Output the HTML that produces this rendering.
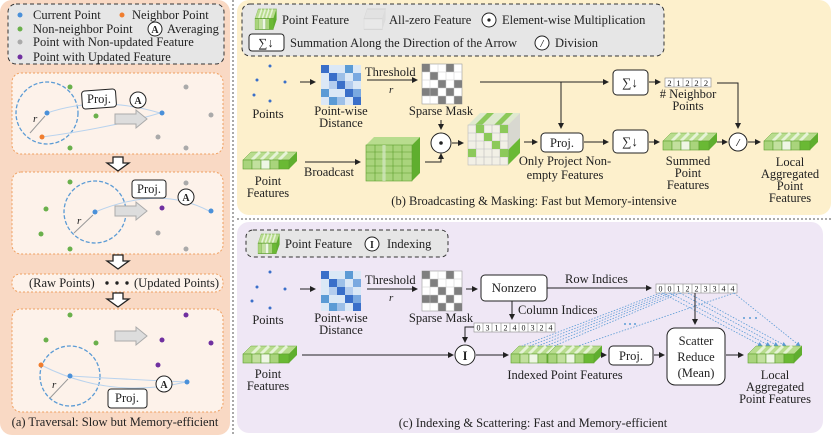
<!DOCTYPE html>
<html><head><meta charset="utf-8"><style>
body{margin:0;background:#fff}
svg text{font-family:"Liberation Serif",serif;fill:#222}
</style></head><body>
<svg width="831" height="435" viewBox="0 0 831 435" xmlns="http://www.w3.org/2000/svg">
<defs>
<marker id="ar" markerWidth="6" markerHeight="6" refX="5" refY="3" orient="auto"><path d="M0,0 L6,3 L0,6 z" fill="#222"/></marker>
<marker id="ab" markerWidth="6" markerHeight="6" refX="5" refY="3" orient="auto"><path d="M0,0 L6,3 L0,6 z" fill="#5b9bd5"/></marker>
<g id="bar">
<polygon points="0,8 8,0 54,0 46,8" fill="#b8dc8e" stroke="#6aa83a" stroke-width="0.5"/>
<path d="M9,8 L17,0 M18,8 L26,0 M27,8 L35,0 M36,8 L44,0" stroke="#e6f3d6" stroke-width="3"/>
<polygon points="46,8 54,0 54,9 46,17" fill="#5fae2e"/>
<rect x="0" y="8" width="9" height="9" fill="#a9d47c" stroke="#5c9e2e" stroke-width="0.6"/>
<rect x="9" y="8" width="9" height="9" fill="#c2e09e" stroke="#5c9e2e" stroke-width="0.6"/>
<rect x="18" y="8" width="9" height="9" fill="#eef6e4" stroke="#5c9e2e" stroke-width="0.6"/>
<rect x="27" y="8" width="9" height="9" fill="#a9d47c" stroke="#5c9e2e" stroke-width="0.6"/>
<rect x="36" y="8" width="10" height="9" fill="#6ab934" stroke="#5c9e2e" stroke-width="0.6"/>
</g>
<g id="dist">
<rect width="40" height="40" fill="#dbe8f6"/>
<rect x="0" y="0" width="8" height="8" fill="#3a6fc9"/><rect x="8" y="8" width="8" height="8" fill="#3a6fc9"/><rect x="16" y="16" width="8" height="8" fill="#3a6fc9"/><rect x="24" y="24" width="8" height="8" fill="#3a6fc9"/><rect x="32" y="32" width="8" height="8" fill="#3a6fc9"/>
<rect x="24" y="0" width="8" height="8" fill="#5b9bd5"/><rect x="16" y="8" width="8" height="8" fill="#9dc0e8"/><rect x="0" y="24" width="8" height="8" fill="#5b9bd5"/><rect x="8" y="32" width="8" height="8" fill="#5b9bd5"/><rect x="32" y="8" width="8" height="8" fill="#7aa9e0"/><rect x="24" y="16" width="8" height="8" fill="#b4cdee"/><rect x="8" y="16" width="8" height="8" fill="#b4cdee"/><rect x="16" y="32" width="8" height="8" fill="#9dc0e8"/><rect x="32" y="24" width="8" height="8" fill="#7aa9e0"/>
</g>
<g id="mask">
<rect width="40" height="40" fill="#fff" stroke="#999" stroke-width="0.6"/>
<g fill="#7f7f7f"><rect x="0" y="0" width="8" height="8"/><rect x="8" y="8" width="8" height="8"/><rect x="16" y="16" width="8" height="8"/><rect x="24" y="24" width="8" height="8"/><rect x="32" y="32" width="8" height="8"/><rect x="24" y="0" width="8" height="8"/><rect x="0" y="24" width="8" height="8"/><rect x="16" y="32" width="8" height="8"/><rect x="32" y="16" width="8" height="8"/><rect x="8" y="24" width="8" height="8"/></g>
<path d="M8,0V40M16,0V40M24,0V40M32,0V40M0,8H40M0,16H40M0,24H40M0,32H40" stroke="#ccc" stroke-width="0.5"/>
</g>
</defs>

<!-- Panel a -->
<rect x="0" y="0" width="230" height="435" rx="12" fill="#f9d9c4"/>
<rect x="8" y="4" width="216" height="60" rx="8" fill="#e6e6e6" stroke="#333" stroke-dasharray="4,3"/>
<g font-size="12.5">
<circle cx="20" cy="15" r="2.5" fill="#4a90d9"/><text x="33" y="19">Current Point</text>
<circle cx="122" cy="15" r="2.5" fill="#f07d2e"/><text x="132" y="19">Neighbor Point</text>
<circle cx="20" cy="29" r="2.5" fill="#6ab04c"/><text x="33" y="33">Non-neighbor Point</text>
<circle cx="155" cy="29" r="7" fill="#fff" stroke="#222"/><text x="155" y="33" text-anchor="middle" font-weight="bold" font-size="10">A</text><text x="167" y="33">Averaging</text>
<circle cx="20" cy="42" r="2.5" fill="#aaa"/><text x="33" y="46">Point with Non-updated Feature</text>
<circle cx="20" cy="57" r="2.5" fill="#7030a0"/><text x="33" y="61">Point with Updated Feature</text>
</g>
<g fill="#fdf2ea" stroke="#f0a060" stroke-dasharray="2,2">
<rect x="12" y="73" width="211" height="81" rx="9"/>
<rect x="12" y="172" width="211" height="82" rx="9"/>
<rect x="12" y="274" width="211" height="18" rx="8"/>
<rect x="12" y="309" width="211" height="103" rx="9"/>
</g>
<g fill="none" stroke="#5b9bd5" stroke-width="1.3" stroke-dasharray="4,2">
<circle cx="47" cy="113" r="31"/><circle cx="95" cy="212" r="31"/><circle cx="70" cy="376" r="30"/>
</g>
<path d="M47,113 Q100,95 160,113 M42,137 Q110,128 160,113" stroke="#b9d3ee" fill="none"/>
<line x1="45" y1="116" x2="30" y2="133" stroke="#999"/>
<text x="33" y="122" font-size="11" font-style="italic">r</text>
<polygon points="115,114 136,114 136,110 147,119 136,128 136,124 115,124" fill="#ddd" stroke="#aaa"/>
<rect x="82" y="90" width="34" height="18" rx="3" fill="#fff" stroke="#222" transform="rotate(-4 99 99)"/><text x="99" y="103" font-size="12.5" text-anchor="middle">Proj.</text>
<circle cx="138" cy="100" r="8" fill="#fff" stroke="#222"/><text x="138" y="104" font-size="10" text-anchor="middle" font-weight="bold">A</text>
<g><circle cx="47" cy="113" r="2.5" fill="#4a90d9"/><circle cx="42" cy="137" r="2.5" fill="#f07d2e"/><circle cx="70" cy="87" r="2.5" fill="#6ab04c"/><circle cx="96" cy="116" r="2.5" fill="#6ab04c"/><circle cx="70" cy="148" r="2.5" fill="#6ab04c"/><circle cx="162" cy="113" r="2.5" fill="#4a90d9"/><circle cx="186" cy="87" r="2.5" fill="#aaa"/><circle cx="211" cy="115" r="2.5" fill="#aaa"/><circle cx="158" cy="137" r="2.5" fill="#aaa"/><circle cx="186" cy="148" r="2.5" fill="#aaa"/></g>
<path d="M95,212 Q160,185 209,211" stroke="#b9d3ee" fill="none"/>
<line x1="93" y1="215" x2="74" y2="233" stroke="#999"/><text x="77" y="224" font-size="11" font-style="italic">r</text>
<polygon points="115,206 136,206 136,202 147,211 136,220 136,216 115,216" fill="#ddd" stroke="#aaa"/>
<rect x="132" y="180" width="34" height="18" rx="3" fill="#fff" stroke="#222"/><text x="149" y="193" font-size="12.5" text-anchor="middle">Proj.</text>
<circle cx="186" cy="197" r="8" fill="#fff" stroke="#222"/><text x="186" y="201" font-size="10" text-anchor="middle" font-weight="bold">A</text>
<g><circle cx="95" cy="212" r="2.5" fill="#4a90d9"/><circle cx="70" cy="182" r="2.5" fill="#6ab04c"/><circle cx="46" cy="209" r="2.5" fill="#6ab04c"/><circle cx="41" cy="234" r="2.5" fill="#6ab04c"/><circle cx="70" cy="249" r="2.5" fill="#6ab04c"/><circle cx="211" cy="211" r="2.5" fill="#4a90d9"/><circle cx="162" cy="208" r="2.5" fill="#7030a0"/><circle cx="186" cy="183" r="2.5" fill="#aaa"/><circle cx="158" cy="233" r="2.5" fill="#aaa"/><circle cx="186" cy="249" r="2.5" fill="#aaa"/></g>
<g fill="#fff" stroke="#222" stroke-width="1.3">
<polygon points="113,157 123,157 123,163 129,163 118,171 107,163 113,163"/>
<polygon points="113,255 123,255 123,261 129,261 118,269 107,261 113,261"/>
<polygon points="113,293 123,293 123,299 129,299 118,307 107,299 113,299"/>
</g>
<text x="29" y="287" font-size="12.5">(Raw Points)</text>
<circle cx="107" cy="283" r="1.7" fill="#222"/><circle cx="117" cy="283" r="1.7" fill="#222"/><circle cx="127" cy="283" r="1.7" fill="#222"/>
<text x="134" y="287" font-size="12.5">(Updated Points)</text>
<path d="M70,376 Q140,380 186,382 M41,365 Q110,400 186,382" stroke="#b9d3ee" fill="none"/>
<line x1="68" y1="379" x2="50" y2="398" stroke="#999"/><text x="52" y="388" font-size="11" font-style="italic">r</text>
<polygon points="115,331 136,331 136,327 147,336 136,345 136,341 115,341" fill="#ddd" stroke="#aaa"/>
<rect x="108" y="389" width="39" height="19" rx="3" fill="#fff" stroke="#222"/><text x="127" y="402" font-size="12.5" text-anchor="middle">Proj.</text>
<circle cx="164" cy="384" r="8" fill="#fff" stroke="#222"/><text x="164" y="388" font-size="10" text-anchor="middle" font-weight="bold">A</text>
<g><circle cx="70" cy="376" r="2.5" fill="#4a90d9"/><circle cx="41" cy="365" r="2.5" fill="#f07d2e"/><circle cx="70" cy="315" r="2.5" fill="#6ab04c"/><circle cx="46" cy="340" r="2.5" fill="#6ab04c"/><circle cx="96" cy="343" r="2.5" fill="#6ab04c"/><circle cx="186" cy="315" r="2.5" fill="#7030a0"/><circle cx="162" cy="340" r="2.5" fill="#7030a0"/><circle cx="211" cy="343" r="2.5" fill="#7030a0"/><circle cx="158" cy="365" r="2.5" fill="#7030a0"/><circle cx="187" cy="382" r="2.5" fill="#4a90d9"/></g>
<text x="115" y="426" font-size="12.5" text-anchor="middle">(a) Traversal: Slow but Memory-efficient</text>

<line x1="233" y1="0" x2="233" y2="435" stroke="#555" stroke-dasharray="2,2"/>
<line x1="237" y1="219" x2="831" y2="219" stroke="#555" stroke-dasharray="2,2"/>

<!-- Panel b -->
<rect x="237" y="0" width="594" height="215" rx="12" fill="#fdf0cc"/>
<rect x="242" y="4" width="422" height="52" rx="8" fill="#e6e6e6" stroke="#333" stroke-dasharray="4,3"/>
<use href="#bar" transform="translate(255,9) scale(0.4,1.2)"/>
<text x="282" y="24" font-size="12.5">Point Feature</text>
<g transform="translate(364,9) scale(0.4,1.2)" opacity="0.35"><polygon points="0,8 8,0 54,0 46,8" fill="#ddd" stroke="#bbb"/><rect x="0" y="8" width="46" height="9" fill="#eee" stroke="#bbb"/><polygon points="46,8 54,0 54,9 46,17" fill="#ccc"/></g>
<text x="389" y="24" font-size="12.5">All-zero Feature</text>
<circle cx="489" cy="20" r="7" fill="#fff" stroke="#222"/><circle cx="489" cy="20" r="1.6" fill="#222"/>
<text x="502" y="24" font-size="12.5">Element-wise Multiplication</text>
<rect x="249" y="34" width="35" height="17" rx="3" fill="#fff" stroke="#222"/><text x="266" y="47" font-size="12.5" text-anchor="middle">∑↓</text>
<text x="290" y="47" font-size="12.5">Summation Along the Direction of the Arrow</text>
<circle cx="542" cy="43" r="7" fill="#fff" stroke="#222"/><text x="542" y="47" font-size="10" text-anchor="middle" font-style="italic" font-weight="bold">/</text>
<text x="555" y="47" font-size="12.5">Division</text>

<g fill="#3a6fc9"><circle cx="270" cy="66" r="1.5"/><circle cx="257" cy="80" r="1.5"/><circle cx="285" cy="82" r="1.5"/><circle cx="254" cy="95" r="1.5"/><circle cx="270" cy="101" r="1.5"/></g>
<text x="268" y="118" font-size="12.5" text-anchor="middle">Points</text>
<line x1="300" y1="82" x2="315" y2="82" stroke="#222" marker-end="url(#ar)"/>
<use href="#dist" x="321" y="65"/>
<text x="341" y="115" font-size="12.5" text-anchor="middle">Point-wise</text><text x="341" y="127" font-size="12.5" text-anchor="middle">Distance</text>
<text x="365" y="76" font-size="12.5">Threshold</text>
<line x1="367" y1="80" x2="417" y2="80" stroke="#222" marker-end="url(#ar)"/>
<text x="389" y="93" font-size="11" font-style="italic">r</text>
<use href="#mask" x="422" y="64"/>
<text x="441" y="115" font-size="12.5" text-anchor="middle">Sparse Mask</text>
<line x1="480" y1="82" x2="608" y2="82" stroke="#222" marker-end="url(#ar)"/>
<line x1="561" y1="82" x2="561" y2="128" stroke="#222" marker-end="url(#ar)"/>
<rect x="613" y="70" width="35" height="25" rx="4" fill="#fff" stroke="#222"/><text x="630" y="87" font-size="13" text-anchor="middle">∑↓</text>
<line x1="649" y1="82" x2="660" y2="82" stroke="#222" marker-end="url(#ar)"/>
<g font-size="8.5"><rect x="665" y="78" width="46" height="9" fill="#fff" stroke="#888" stroke-width="0.6"/>
<path d="M674,78V87M683,78V87M692,78V87M701,78V87" stroke="#888" stroke-width="0.6"/>
<text x="669.5" y="86" text-anchor="middle">2</text><text x="678.5" y="86" text-anchor="middle">1</text><text x="687.5" y="86" text-anchor="middle">2</text><text x="696.5" y="86" text-anchor="middle">2</text><text x="706" y="86" text-anchor="middle">2</text></g>
<text x="688" y="98" font-size="12.5" text-anchor="middle"># Neighbor</text><text x="688" y="110" font-size="12.5" text-anchor="middle">Points</text>
<path d="M717,83 H738 V128" stroke="#222" fill="none" marker-end="url(#ar)"/>
<line x1="441" y1="120" x2="441" y2="129" stroke="#222" marker-end="url(#ar)"/>
<use href="#bar" x="243" y="152" />
<text x="268" y="185" font-size="12.5" text-anchor="middle">Point</text><text x="268" y="197" font-size="12.5" text-anchor="middle">Features</text>
<line x1="305" y1="162" x2="360" y2="162" stroke="#222" marker-end="url(#ar)"/>
<text x="304" y="176" font-size="12.5">Broadcast</text>
<g>
<polygon points="366,145 374,137 420,137 412,145" fill="#b8dc8e"/>
<polygon points="412,145 420,137 420,173 412,181" fill="#5fae2e"/>
<rect x="366" y="145" width="46" height="36" fill="#a9d47c" stroke="#5c9e2e" stroke-width="0.6"/>
<path d="M375,145V181M384,145V181M393,145V181M402,145V181M366,152H412M366,159H412M366,166H412M366,173H412" stroke="#5c9e2e" stroke-width="0.6"/>
<path d="M384,145V181" stroke="#eef6e4" stroke-width="3" opacity="0.6"/>
</g>
<path d="M425,162 H441 V154" stroke="#222" fill="none" marker-end="url(#ar)"/>
<circle cx="441" cy="143" r="10" fill="#fff" stroke="#222"/><circle cx="441" cy="143" r="1.8" fill="#222"/>
<line x1="452" y1="143" x2="463" y2="143" stroke="#222" marker-end="url(#ar)"/>
<g>
<polygon points="468,125 480,113 520,113 508,125" fill="#dfe9cf"/>
<polygon points="475,125 487,113 494,113 482,125" fill="#8cc95a"/><polygon points="494,125 506,113 513,113 501,125" fill="#8cc95a"/>
<polygon points="508,125 520,113 520,153 508,165" fill="#d8d8d0"/>
<polygon points="508,150 520,138 520,153 508,165" fill="#6ab934"/>
<rect x="468" y="125" width="40" height="40" fill="#f2f0e6" stroke="#bbb" stroke-width="0.6"/>
<path d="M476,125V165M484,125V165M492,125V165M500,125V165M468,133H508M468,141H508M468,149H508M468,157H508" stroke="#bbb" stroke-width="0.6"/>
<g fill="#8cc95a"><rect x="476" y="125" width="8" height="8"/><rect x="484" y="133" width="8" height="8"/><rect x="492" y="141" width="8" height="8"/><rect x="468" y="149" width="8" height="8"/><rect x="500" y="149" width="8" height="8"/><rect x="500" y="125" width="8" height="8"/></g>
</g>
<line x1="524" y1="142" x2="537" y2="142" stroke="#222" marker-end="url(#ar)"/>
<rect x="541" y="133" width="42" height="19" rx="4" fill="#fff" stroke="#222"/><text x="562" y="147" font-size="12.5" text-anchor="middle">Proj.</text>
<text x="565" y="165" font-size="12.5" text-anchor="middle">Only Project Non-</text><text x="565" y="179" font-size="12.5" text-anchor="middle">empty Features</text>
<line x1="584" y1="142" x2="608" y2="142" stroke="#222" marker-end="url(#ar)"/>
<rect x="613" y="130" width="35" height="23" rx="4" fill="#fff" stroke="#222"/><text x="630" y="146" font-size="13" text-anchor="middle">∑↓</text>
<line x1="649" y1="142" x2="659" y2="142" stroke="#222" marker-end="url(#ar)"/>
<use href="#bar" x="663" y="133"/>
<text x="688" y="165" font-size="12.5" text-anchor="middle">Summed</text><text x="688" y="177" font-size="12.5" text-anchor="middle">Point</text><text x="688" y="189" font-size="12.5" text-anchor="middle">Features</text>
<line x1="717" y1="142" x2="727" y2="142" stroke="#222" marker-end="url(#ar)"/>
<circle cx="738" cy="142" r="9" fill="#fff" stroke="#222"/><text x="738" y="146" font-size="11" text-anchor="middle" font-style="italic" font-weight="bold">/</text>
<line x1="748" y1="142" x2="760" y2="142" stroke="#222" marker-end="url(#ar)"/>
<use href="#bar" x="764" y="133"/>
<text x="790" y="166" font-size="12.5" text-anchor="middle">Local</text><text x="790" y="178" font-size="12.5" text-anchor="middle">Aggregated</text><text x="790" y="190" font-size="12.5" text-anchor="middle">Point</text><text x="790" y="202" font-size="12.5" text-anchor="middle">Features</text>
<text x="534" y="205" font-size="12.5" text-anchor="middle">(b) Broadcasting &amp; Masking: Fast but Memory-intensive</text>

<!-- Panel c -->
<rect x="237" y="222" width="586" height="211" rx="12" fill="#efe7f5"/>
<rect x="246" y="230" width="202" height="27" rx="7" fill="#e6e6e6" stroke="#333" stroke-dasharray="4,3"/>
<use href="#bar" transform="translate(258,234) scale(0.4,1.15)"/>
<text x="285" y="248" font-size="12.5">Point Feature</text>
<circle cx="372" cy="244" r="7" fill="#fff" stroke="#222"/><text x="372" y="248" font-size="10" text-anchor="middle" font-weight="bold">I</text>
<text x="387" y="248" font-size="12.5">Indexing</text>
<g fill="#3a6fc9"><circle cx="270" cy="272" r="1.5"/><circle cx="257" cy="287" r="1.5"/><circle cx="285" cy="289" r="1.5"/><circle cx="252" cy="301" r="1.5"/><circle cx="270" cy="308" r="1.5"/></g>
<text x="268" y="324" font-size="12.5" text-anchor="middle">Points</text>
<line x1="300" y1="289" x2="315" y2="289" stroke="#222" marker-end="url(#ar)"/>
<use href="#dist" x="321" y="271"/>
<text x="341" y="322" font-size="12.5" text-anchor="middle">Point-wise</text><text x="341" y="334" font-size="12.5" text-anchor="middle">Distance</text>
<text x="365" y="284" font-size="12.5">Threshold</text>
<line x1="367" y1="289" x2="417" y2="289" stroke="#222" marker-end="url(#ar)"/>
<text x="389" y="301" font-size="11" font-style="italic">r</text>
<use href="#mask" x="422" y="271"/>
<text x="441" y="322" font-size="12.5" text-anchor="middle">Sparse Mask</text>
<line x1="466" y1="289" x2="477" y2="289" stroke="#222" marker-end="url(#ar)"/>
<rect x="481" y="275" width="66" height="26" rx="4" fill="#fff" stroke="#222"/><text x="514" y="292" font-size="13" text-anchor="middle">Nonzero</text>
<line x1="547" y1="288" x2="651" y2="288" stroke="#222" marker-end="url(#ar)"/>
<text x="565" y="283" font-size="12.5">Row Indices</text>
<line x1="512" y1="301" x2="512" y2="319" stroke="#222" marker-end="url(#ar)"/>
<text x="518" y="314" font-size="12.5">Column Indices</text>
<g font-size="8">
<rect x="474" y="323" width="81" height="9" fill="#fff" stroke="#888" stroke-width="0.6"/>
<path d="M483,323V332M492,323V332M501,323V332M510,323V332M519,323V332M528,323V332M537,323V332M546,323V332" stroke="#888" stroke-width="0.6"/>
<text x="478.5" y="330.5" text-anchor="middle">0</text><text x="487.5" y="330.5" text-anchor="middle">3</text><text x="496.5" y="330.5" text-anchor="middle">1</text><text x="505.5" y="330.5" text-anchor="middle">2</text><text x="514.5" y="330.5" text-anchor="middle">4</text><text x="523.5" y="330.5" text-anchor="middle">0</text><text x="532.5" y="330.5" text-anchor="middle">3</text><text x="541.5" y="330.5" text-anchor="middle">2</text><text x="550.5" y="330.5" text-anchor="middle">4</text>
<rect x="656" y="284" width="81" height="9" fill="#fff" stroke="#888" stroke-width="0.6"/>
<path d="M665,284V293M674,284V293M683,284V293M692,284V293M701,284V293M710,284V293M719,284V293M728,284V293" stroke="#888" stroke-width="0.6"/>
<text x="660.5" y="291.5" text-anchor="middle">0</text><text x="669.5" y="291.5" text-anchor="middle">0</text><text x="678.5" y="291.5" text-anchor="middle">1</text><text x="687.5" y="291.5" text-anchor="middle">2</text><text x="696.5" y="291.5" text-anchor="middle">2</text><text x="705.5" y="291.5" text-anchor="middle">3</text><text x="714.5" y="291.5" text-anchor="middle">3</text><text x="723.5" y="291.5" text-anchor="middle">4</text><text x="732.5" y="291.5" text-anchor="middle">4</text>
</g>
<path d="M474,327 H465 V342" stroke="#222" fill="none" marker-end="url(#ar)"/>
<use href="#bar" x="243" y="346"/>
<text x="268" y="378" font-size="12.5" text-anchor="middle">Point</text><text x="268" y="390" font-size="12.5" text-anchor="middle">Features</text>
<line x1="302" y1="355" x2="453" y2="355" stroke="#222" marker-end="url(#ar)"/>
<circle cx="465" cy="355" r="10" fill="#fff" stroke="#222"/><text x="465" y="360" font-size="12.5" text-anchor="middle" font-weight="bold">I</text>
<line x1="476" y1="355" x2="508" y2="355" stroke="#222" marker-end="url(#ar)"/>
<use href="#bar" x="511" y="346"/><use href="#bar" x="548" y="346"/>
<text x="565" y="379" font-size="12.5" text-anchor="middle">Indexed Point Features</text>
<g stroke="#5b9bd5" stroke-width="0.8" stroke-dasharray="1.5,1.5" fill="none">
<line x1="660" y1="293" x2="522" y2="346"/><line x1="665" y1="293" x2="530" y2="346"/><line x1="670" y1="293" x2="538" y2="346"/><line x1="675" y1="293" x2="546" y2="346"/><line x1="680" y1="293" x2="554" y2="346"/><line x1="734" y1="293" x2="578" y2="346"/>
<line x1="662" y1="293" x2="762" y2="346" marker-end="url(#ab)"/><line x1="670" y1="293" x2="770" y2="346" marker-end="url(#ab)"/><line x1="680" y1="293" x2="778" y2="346" marker-end="url(#ab)"/><line x1="688" y1="293" x2="786" y2="346" marker-end="url(#ab)"/><line x1="734" y1="293" x2="800" y2="346" marker-end="url(#ab)"/>
</g>
<g fill="#5b9bd5"><circle cx="625" cy="324" r="1"/><circle cx="630" cy="324" r="1"/><circle cx="635" cy="324" r="1"/><circle cx="744" cy="318" r="1"/><circle cx="750" cy="318" r="1"/><circle cx="756" cy="318" r="1"/></g>
<line x1="602" y1="355" x2="606" y2="355" stroke="#222" marker-end="url(#ar)"/>
<rect x="609" y="346" width="44" height="19" rx="4" fill="#fff" stroke="#222"/><text x="631" y="360" font-size="12.5" text-anchor="middle">Proj.</text>
<line x1="654" y1="355" x2="664" y2="355" stroke="#222" marker-end="url(#ar)"/>
<line x1="695" y1="293" x2="695" y2="324" stroke="#222" marker-end="url(#ar)"/>
<rect x="667" y="328" width="58" height="57" rx="8" fill="#fff" stroke="#222"/>
<text x="696" y="345" font-size="12.5" text-anchor="middle">Scatter</text><text x="696" y="361" font-size="12.5" text-anchor="middle">Reduce</text><text x="696" y="377" font-size="12.5" text-anchor="middle">(Mean)</text>
<line x1="726" y1="355" x2="743" y2="355" stroke="#222" marker-end="url(#ar)"/>
<use href="#bar" x="748" y="346"/>
<text x="775" y="379" font-size="12.5" text-anchor="middle">Local</text><text x="775" y="391" font-size="12.5" text-anchor="middle">Aggregated</text><text x="775" y="403" font-size="12.5" text-anchor="middle">Point Features</text>
<text x="533" y="427" font-size="12.5" text-anchor="middle">(c) Indexing &amp; Scattering: Fast and Memory-efficient</text>
</svg>
</body></html>
